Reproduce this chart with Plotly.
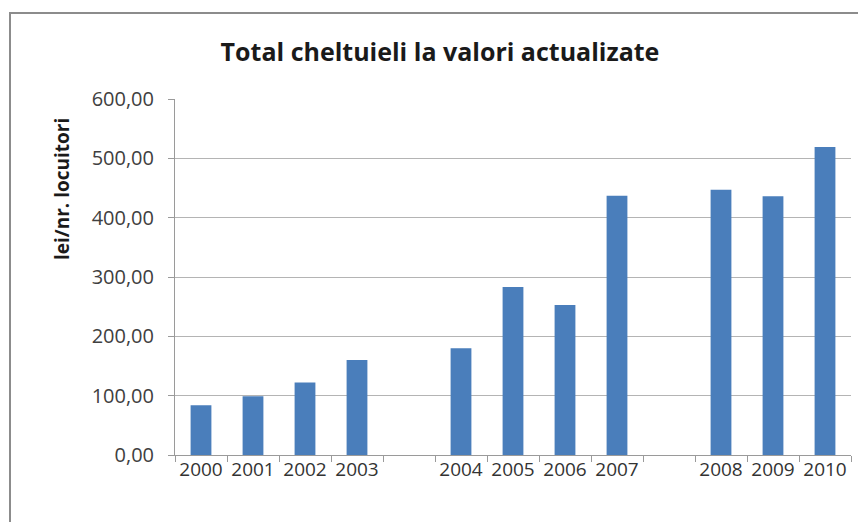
import plotly.graph_objects as go

years = ["2000", "2001", "2002", "2003", "2004", "2005", "2006", "2007", "2008", "2009", "2010"]
values = [84, 99, 122, 160, 180, 283, 253, 437, 447, 436, 519]
# gaps (empty category slots) appear after these years
gap_after = ["2003", "2007"]

categories = []
bar_values = []
gap_n = 0
for y, v in zip(years, values):
    categories.append(y)
    bar_values.append(v)
    if y in gap_after:
        gap_n += 1
        categories.append(" " * gap_n)
        bar_values.append(None)

FONT = "Open Sans, Noto Sans, sans-serif"
W, H = 858, 514  # page body has an 8px margin

fig = go.Figure(go.Bar(
    x=categories, y=bar_values,
    marker=dict(color="#4A7EBB", line=dict(width=0)),
    width=0.4,
))

fig.update_layout(
    width=W, height=H,
    margin=dict(l=167, r=15, t=91, b=67),
    paper_bgcolor="white", plot_bgcolor="white",
    separators=", ",
    showlegend=False,
    font=dict(family=FONT, color="#404040"),
    title=dict(
        text="<b>Total cheltuieli la valori actualizate</b>",
        x=(440 - 8) / W, xref="container", xanchor="center",
        y=1 - (52 - 8) / H, yref="container", yanchor="middle",
        font=dict(size=25, color="#1a1a1a", family=FONT),
    ),
    bargap=0.6,
)

fig.update_xaxes(
    type="category", categoryorder="array", categoryarray=categories,
    showline=True, linecolor="#9a9a9a", linewidth=1,
    ticks="outside", ticklen=6, tickcolor="#9a9a9a", tickson="boundaries",
    tickfont=dict(size=19, color="#333333"),
    tickangle=0,
    ticklabelstandoff=-3,
    showgrid=False,
)
fig.update_yaxes(
    range=[0, 600], dtick=100, tickformat=".2f",
    showline=True, linecolor="#9a9a9a", linewidth=1,
    ticks="outside", ticklen=6, tickcolor="#9a9a9a",
    showgrid=True, gridcolor="#b4b4b4", gridwidth=1,
    tickfont=dict(size=20, color="#404040"),
    ticklabelstandoff=10,
    zeroline=False,
)

fig.add_annotation(
    text="<b>lei/nr. locuitori</b>", textangle=-90,
    xref="paper", yref="paper",
    x=(62 - 175) / 676, y=(455 - 189) / 356,
    xanchor="center", yanchor="middle", showarrow=False,
    font=dict(size=19, color="#1a1a1a", family=FONT),
)

# outer chart frame (left/top edges visible in the crop)
fig.add_shape(
    type="rect", xref="paper", yref="paper",
    x0=(10 - 175) / 676, x1=(900 - 175) / 676,
    y0=(455 - 560) / 356, y1=(455 - 13) / 356,
    line=dict(color="#8c8c8c", width=2), fillcolor="rgba(0,0,0,0)",
    layer="below",
)

fig.write_html("out.html")
